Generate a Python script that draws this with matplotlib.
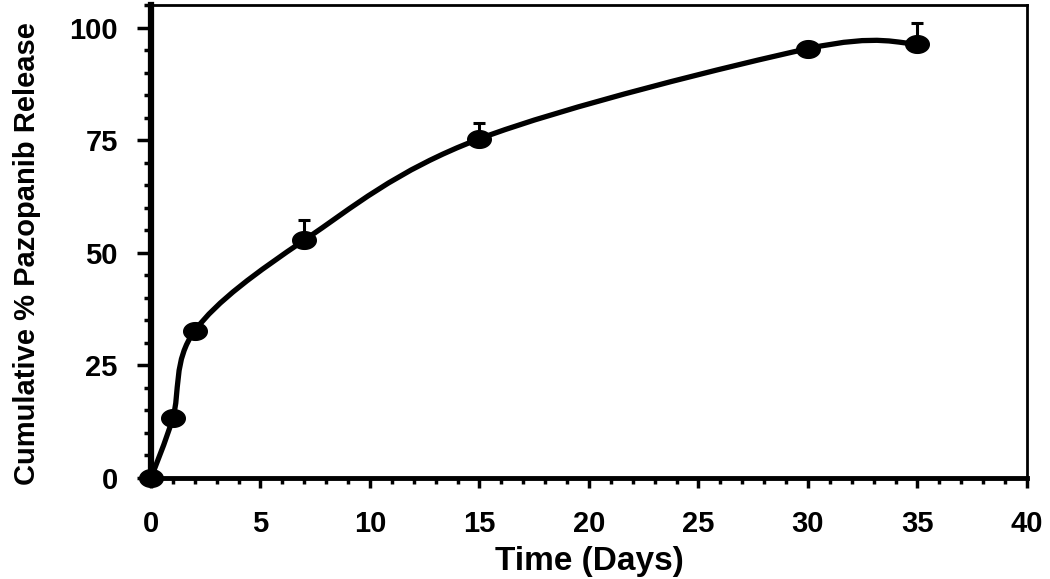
import numpy as np
import matplotlib
matplotlib.use('Agg')
import matplotlib.pyplot as plt
from matplotlib.path import Path
from matplotlib.patches import PathPatch
from matplotlib.ticker import MultipleLocator

# release data
days = [0, 1, 2, 7, 15, 30, 35]
release = [0, 13.4, 32.7, 52.8, 75.3, 95.3, 96.4]
err_up = [0, 0, 0, 4.4, 3.5, 0, 4.5]

x_ticks = [0, 5, 10, 15, 20, 25, 30, 35, 40]
y_ticks = [0, 25, 50, 75, 100]

plt.rcParams['font.family'] = ['Liberation Sans', 'DejaVu Sans']
plt.rcParams['font.weight'] = 'bold'

fig = plt.figure(figsize=(10.5, 5.79), dpi=100)
ax = fig.add_axes([0.1438, 0.1744, 0.978 - 0.1438, 0.9914 - 0.1744])

# smoothed line (excel-style bezier through the points)
pts = np.column_stack([days, release])
verts = [pts[0]]
codes = [Path.MOVETO]
n = len(pts)
for i in range(n - 1):
    p0 = pts[max(i - 1, 0)]
    p1 = pts[i]
    p2 = pts[i + 1]
    p3 = pts[min(i + 2, n - 1)]
    c1 = p1 + (p2 - p0) / 6.0
    c2 = p2 - (p3 - p1) / 6.0
    verts += [c1, c2, p2]
    codes += [Path.CURVE4] * 3
ax.add_patch(PathPatch(Path(verts, codes), facecolor='none', edgecolor='black',
                       lw=3.8, zorder=3, clip_on=False))

# error bars, upper only
ax.errorbar(days, release, yerr=[np.zeros(len(err_up)), err_up], fmt='none',
            ecolor='black', elinewidth=2.2, capsize=4, capthick=2.2, zorder=2)

# slightly flattened circle marker
t = np.linspace(0, 2 * np.pi, 60)
ell = Path(np.column_stack([np.cos(t), 0.75 * np.sin(t)]), closed=True)
ax.plot(days, release, linestyle='none', marker=ell, markersize=17,
        color='black', zorder=4, clip_on=False)

ax.set_xlim(0, 40)
ax.set_ylim(0, 105)
ax.set_xticks(x_ticks)
ax.set_yticks(y_ticks)
ax.xaxis.set_minor_locator(MultipleLocator(1))
ax.yaxis.set_minor_locator(MultipleLocator(5))

ax.tick_params(axis='both', which='both', direction='out', labelsize=21, width=2.5)
ax.tick_params(axis='x', which='major', length=7, pad=16)
ax.tick_params(axis='x', which='minor', length=4)
ax.tick_params(axis='y', which='major', length=10, pad=14)
ax.tick_params(axis='y', which='minor', length=5)
for lab in ax.get_xticklabels() + ax.get_yticklabels():
    lab.set_fontweight('bold')

ax.spines['left'].set_linewidth(4.5)
ax.spines['bottom'].set_linewidth(3.5)
ax.spines['top'].set_linewidth(2)
ax.spines['right'].set_linewidth(2)

ax.set_xlabel('Time (Days)', fontsize=24, fontweight='bold', labelpad=6)
ax.set_ylabel('Cumulative % Pazopanib Release', fontsize=21, fontweight='bold', labelpad=20)
ax.yaxis.label.set_y(0.475)

plt.savefig('out.png', dpi=100)
